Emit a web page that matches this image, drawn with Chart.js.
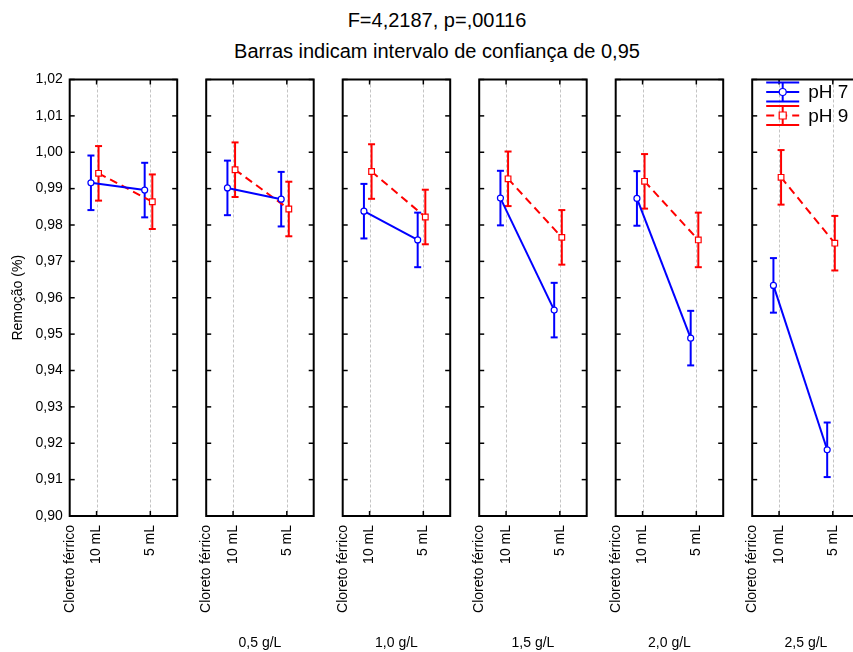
<!DOCTYPE html>
<html>
<head>
<meta charset="utf-8">
<script src="https://cdn.jsdelivr.net/npm/chart.js@4/dist/chart.umd.min.js"></script>
<style>
  html, body { margin:0; padding:0; background:#fff; }
  #wrap { position:relative; width:853px; height:652px; overflow:hidden; background:#fff; font-family:"Liberation Sans", Arial, sans-serif; }
  .ttl { position:absolute; left:0; width:874px; text-align:center; font-size:20px; line-height:24px; color:#000; white-space:nowrap; }
  canvas { position:absolute; top:0; }
</style>
</head>
<body>
<div id="wrap">
  <div class="ttl" style="top:8px">F=4,2187, p=,00116</div>
  <div class="ttl" style="top:39px">Barras indicam intervalo de confiança de 0,95</div>
</div>
<script>
// ---------------- data ----------------
const concentrations = ['', '0,5 g/L', '1,0 g/L', '1,5 g/L', '2,0 g/L', '2,5 g/L'];
const volumes = ['10 mL', '5 mL'];
const factorName = 'Cloreto férrico';
const seriesNames = ['pH 7', 'pH 9'];
const ph7_10mL = [0.9916, 0.9902, 0.9838, 0.9874, 0.9873, 0.9634];
const ph7_5mL  = [0.9896, 0.9871, 0.9759, 0.9566, 0.9489, 0.9182];
const ph9_10mL = [0.9942, 0.9952, 0.9947, 0.9927, 0.9920, 0.9931];
const ph9_5mL  = [0.9864, 0.9844, 0.9822, 0.9766, 0.9759, 0.9750];
const ci95Half = 0.0075;            // half-width of the 0,95 confidence interval
const yMin = 0.90, yMax = 1.02, yStep = 0.01;

// ---------------- styling / layout constants ----------------
const FONT = '"Liberation Sans", Arial, sans-serif';
const BLUE = '#0000ff', RED = '#ff0000';
const OFFSET = [-0.105, 0.037];     // horizontal jitter of the two series (category units)
const PANEL_L0 = 69.7, PANEL_STEP = 136.5, PANEL_W = 107.5, MARGIN = 20;
const TOP = 79.5, BOTTOM = 516, CANVAS_H = 660;

const seriesVals = [[ph7_10mL, ph7_5mL], [ph9_10mL, ph9_5mL]];

function line(ctx, x1, y1, x2, y2) { ctx.beginPath(); ctx.moveTo(x1, y1); ctx.lineTo(x2, y2); ctx.stroke(); }

const decor = {
  id: 'decor',
  beforeDatasetsDraw(chart) {
    const { ctx, chartArea: a, scales: { x, y } } = chart;
    ctx.save();
    ctx.strokeStyle = '#c4c4c4'; ctx.lineWidth = 1; ctx.setLineDash([3, 2]);
    volumes.forEach((v, j) => { const px = Math.round(x.getPixelForValue(j)) + 0.5; line(ctx, px, a.top, px, a.bottom); });
    ctx.setLineDash([]);
    chart.data.datasets.forEach((ds) => {
      ctx.strokeStyle = ds.borderColor; ctx.lineWidth = 2;
      ds.data.forEach(pt => {
        const px = x.getPixelForValue(pt.x);
        const y1 = y.getPixelForValue(pt.y + ci95Half), y2 = y.getPixelForValue(pt.y - ci95Half);
        line(ctx, px, y1, px, y2);
        line(ctx, px - 3.5, y1, px + 3.5, y1);
        line(ctx, px - 3.5, y2, px + 3.5, y2);
      });
    });
    ctx.restore();
  },
  afterDraw(chart) {
    const { ctx, chartArea: a, scales: { x, y } } = chart;
    ctx.save();
    ctx.strokeStyle = '#000'; ctx.lineWidth = 2;
    ctx.strokeRect(a.left, a.top, a.right - a.left, a.bottom - a.top);
    ctx.lineWidth = 1.5;
    y.ticks.forEach(t => {
      const py = y.getPixelForValue(t.value);
      line(ctx, a.left, py, a.left + 5, py);
      line(ctx, a.right - 5, py, a.right, py);
    });
    volumes.forEach((v, j) => {
      const px = x.getPixelForValue(j);
      line(ctx, px, a.top, px, a.top + 5);
      line(ctx, px, a.bottom - 5, px, a.bottom);
    });
    if (chart.options.plugins.decor && chart.options.plugins.decor.legend) {
      const rows = [a.top + 12.5, a.top + 36];
      chart.data.datasets.forEach((ds, k) => {
        const cy = rows[k], x0 = a.left + 14, x1 = a.left + 47, cx = (x0 + x1) / 2;
        ctx.strokeStyle = ds.borderColor; ctx.lineWidth = 2;
        line(ctx, x0, cy - 9.5, x1, cy - 9.5);
        line(ctx, x0, cy + 9.5, x1, cy + 9.5);
        line(ctx, cx, cy - 9.5, cx, cy + 9.5);
        ctx.setLineDash(ds.borderDash || []);
        line(ctx, x0, cy, x1, cy);
        ctx.setLineDash([]);
        ctx.fillStyle = '#fff'; ctx.lineWidth = 1.2;
        ctx.beginPath();
        if (ds.pointStyle === 'rect') ctx.rect(cx - 3.5, cy - 3.5, 7, 7); else ctx.arc(cx, cy, 3.5, 0, Math.PI * 2);
        ctx.fill(); ctx.stroke();
        ctx.fillStyle = '#000'; ctx.font = '19px ' + FONT; ctx.textBaseline = 'middle'; ctx.textAlign = 'left';
        ctx.fillText(ds.label, a.left + 56, cy + 1);
      });
    }
    ctx.restore();
  }
};

const wrap = document.getElementById('wrap');
concentrations.forEach((conc, i) => {
  const L = PANEL_L0 + PANEL_STEP * i;
  const first = i === 0;
  const cLeft = first ? 0 : Math.floor(L - MARGIN);
  const padL = L - cLeft;
  const cW = Math.ceil(padL + PANEL_W + MARGIN);
  const padR = cW - padL - PANEL_W;
  const cv = document.createElement('canvas');
  cv.width = cW; cv.height = CANVAS_H;
  cv.style.left = cLeft + 'px'; cv.style.width = cW + 'px'; cv.style.height = CANVAS_H + 'px';
  wrap.appendChild(cv);

  const datasets = seriesNames.map((name, k) => ({
    label: name,
    data: volumes.map((v, j) => ({ x: j + OFFSET[k], y: seriesVals[k][j][i] })),
    borderColor: k === 0 ? BLUE : RED,
    borderWidth: 2,
    borderDash: k === 0 ? [] : [8, 5],
    pointStyle: k === 0 ? 'circle' : 'rect',
    pointRadius: k === 0 ? 3 : 4,
    pointBorderWidth: 1.2,
    pointBackgroundColor: '#fff',
    pointBorderColor: k === 0 ? BLUE : RED,
    tension: 0,
    fill: false
  }));

  new Chart(cv, {
    type: 'line',
    data: { datasets },
    options: {
      responsive: false, animation: false, devicePixelRatio: 1,
      layout: { padding: { top: TOP, left: 0, right: padR, bottom: 0 } },
      plugins: { legend: { display: false }, tooltip: { enabled: false }, decor: { legend: i === concentrations.length - 1 } },
      scales: {
        x: {
          type: 'linear', min: -0.5, max: 1.5,
          afterBuildTicks: s => { s.ticks = [{ value: -0.5 }, { value: 0 }, { value: 1 }]; },
          afterFit: s => { s.height = CANVAS_H - BOTTOM; s.paddingLeft = 0; s.paddingRight = 0; },
          grid: { display: false, drawTicks: false }, border: { display: false },
          ticks: { autoSkip: false, minRotation: 90, maxRotation: 90, padding: 9, color: '#000',
                   font: { family: FONT, size: 14 },
                   callback: v => v === -0.5 ? factorName : volumes[v] },
          title: { display: conc !== '', text: conc, color: '#000', font: { family: FONT, size: 14 }, padding: { top: 0, bottom: 8 } }
        },
        y: {
          min: yMin, max: yMax,
          afterFit: s => { s.width = padL; },
          grid: { display: false, drawTicks: false }, border: { display: false },
          ticks: { display: first, stepSize: yStep, padding: 7, color: '#000', autoSkip: false,
                   font: { family: FONT, size: 14 },
                   callback: v => v.toFixed(2).replace('.', ',') },
          title: { display: first, text: 'Remoção (%)', color: '#000', font: { family: FONT, size: 14 }, padding: { top: 10, bottom: 0 } }
        }
      }
    },
    plugins: [decor]
  });
});
</script>
</body>
</html>
